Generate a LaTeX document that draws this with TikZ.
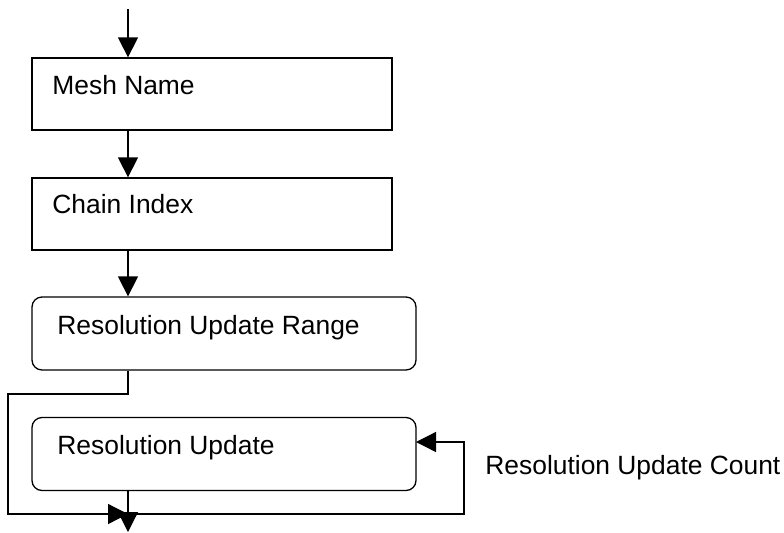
\documentclass[tikz,border=0pt]{standalone}
\usepackage{fontspec}
\setmainfont{Liberation Sans}
\usetikzlibrary{arrows.meta}
\begin{document}
\begin{tikzpicture}[x=0.5pt,y=-0.5pt,
  every node/.style={font=\fontsize{13.2}{16}\selectfont},
  line/.style={line width=0.65pt},
  arr/.style={line, -{Triangle[length=10pt,width=10pt]}},
  sqbox/.style={draw, line width=0.65pt, inner sep=0pt, minimum width=180pt, minimum height=36pt},
  rbox/.style={draw, line width=0.65pt, rounded corners=5pt, inner sep=0pt, minimum width=192pt, minimum height=36.5pt},
  txt/.style={anchor=west, inner sep=0pt}]
\useasboundingbox (0,0) rectangle (784,532);
\coordinate (start) at (128,9);
\node[sqbox] (mesh) at (212,94) {};
\node[txt] (meshT) at (52,85) {Mesh Name};
\node[sqbox] (chain) at (212,214) {};
\node[txt] (chainT) at (52,204) {Chain Index};
\node[rbox] (range) at (224,333.5) {};
\node[txt] (rangeT) at (57,328) {Resolution Update Range};
\node[rbox] (upd) at (224,454) {};
\node[txt] (updT) at (57,448) {Resolution Update};
\node[txt] (cnt) at (485,468) {Resolution Update Count};
\coordinate (j) at (128,514);
\coordinate (bot) at (128,532);
\coordinate (in) at (416,442);
\draw[arr] (start) -- (mesh.north -| start);
\draw[arr] (mesh.south -| start) -- (chain.north -| start);
\draw[arr] (chain.south -| start) -- (range.north -| start);
\draw[arr] (range.south -| start) -- (128,394) -- (8,394) -- (8,514) -- (j);
\draw[arr] (upd.south -| start) -- (bot);
\draw[arr] (j) -- (464,514) -- (464,442) -- (in);
\end{tikzpicture}
\end{document}
